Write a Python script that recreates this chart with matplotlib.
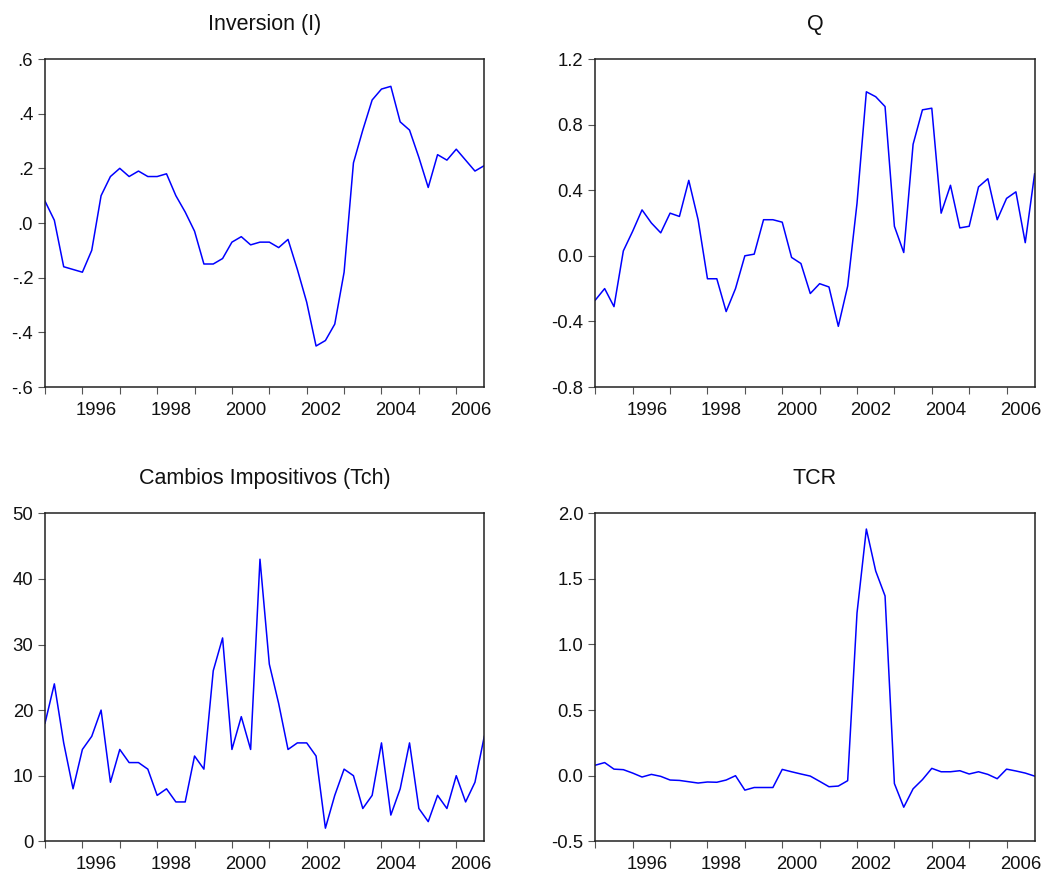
import matplotlib
matplotlib.use("Agg")
import matplotlib.pyplot as plt
import numpy as np

# quarterly data 1995Q1 .. 2006Q4
years = list(range(1995, 2007))

inversion = [0.08, 0.01, -0.16, -0.17, -0.18, -0.10, 0.10, 0.17, 0.20, 0.17, 0.19, 0.17,
             0.17, 0.18, 0.10, 0.04, -0.03, -0.15, -0.15, -0.13, -0.07, -0.05, -0.08, -0.07,
             -0.07, -0.09, -0.06, -0.17, -0.29, -0.45, -0.43, -0.37, -0.18, 0.22, 0.34, 0.45,
             0.49, 0.50, 0.37, 0.34, 0.24, 0.13, 0.25, 0.23, 0.27, 0.23, 0.19, 0.21]

q = [-0.27, -0.20, -0.31, 0.03, 0.15, 0.28, 0.20, 0.14, 0.26, 0.24, 0.46, 0.22,
     -0.14, -0.14, -0.34, -0.20, 0.00, 0.01, 0.22, 0.22, 0.205, -0.01, -0.047, -0.23,
     -0.17, -0.19, -0.43, -0.185, 0.32, 1.00, 0.97, 0.91, 0.18, 0.02, 0.68, 0.89,
     0.90, 0.26, 0.43, 0.17, 0.18, 0.42, 0.47, 0.22, 0.35, 0.39, 0.08, 0.50]

tch = [18, 24, 15, 8, 14, 16, 20, 9, 14, 12, 12, 11,
       7, 8, 6, 6, 13, 11, 26, 31, 14, 19, 14, 43,
       27, 21, 14, 15, 15, 13, 2, 7, 11, 10, 5, 7,
       15, 4, 8, 15, 5, 3, 7, 5, 10, 6, 9, 16]

tcr = [0.08, 0.10, 0.05, 0.046, 0.02, -0.01, 0.01, -0.005, -0.033, -0.036, -0.046, -0.056,
       -0.048, -0.05, -0.033, 0.0, -0.11, -0.09, -0.09, -0.09, 0.048, 0.03, 0.013, -0.003,
       -0.043, -0.084, -0.079, -0.038, 1.24, 1.88, 1.56, 1.37, -0.06, -0.24, -0.10, -0.03,
       0.056, 0.03, 0.03, 0.038, 0.013, 0.03, 0.01, -0.023, 0.05, 0.036, 0.02, -0.003]

titles = ["Inversion (I)", "Q", "Cambios Impositivos (Tch)", "TCR"]
yticks = [[0.6, 0.4, 0.2, 0.0, -0.2, -0.4, -0.6],
          [1.2, 0.8, 0.4, 0.0, -0.4, -0.8],
          [50, 40, 30, 20, 10, 0],
          [2.0, 1.5, 1.0, 0.5, 0.0, -0.5]]
ylabels = [[".6", ".4", ".2", ".0", "-.2", "-.4", "-.6"],
           ["1.2", "0.8", "0.4", "0.0", "-0.4", "-0.8"],
           ["50", "40", "30", "20", "10", "0"],
           ["2.0", "1.5", "1.0", "0.5", "0.0", "-0.5"]]
series = [inversion, q, tch, tcr]

plt.rcParams["font.family"] = ["Liberation Sans", "DejaVu Sans"]

W, H = 1053, 877
fig = plt.figure(figsize=(W / 100, H / 100), dpi=100)
boxes = [(45, 59), (595.3, 59), (45, 513.3), (595.3, 513.3)]
aw, ah = 439.3, 328.0

x = np.arange(len(inversion))
for (lx, ty), title, ys, yt, yl in zip(boxes, titles, series, yticks, ylabels):
    ax = fig.add_axes([lx / W, 1 - (ty + ah) / H, aw / W, ah / H])
    ax.plot(x, ys, color="#0000ff", lw=1.1)
    ax.set_xlim(0, len(ys) - 1)
    ax.set_ylim(min(yt), max(yt))
    ax.set_yticks(yt, yl)
    # year ticks (unlabelled) and labels centred on even years
    ax.set_xticks([4 * i for i in range(len(years))], [""] * len(years))
    ax.set_xticks([4 * i + 1.5 for i, yv in enumerate(years) if yv % 2 == 0],
                  [str(yv) for yv in years if yv % 2 == 0], minor=True)
    ax.tick_params(which="major", length=5, width=0.8, color="#555555",
                   labelsize=13.3, labelcolor="#111111", pad=3.5)
    ax.tick_params(axis="x", which="minor", length=0, pad=10.5,
                   labelsize=13.3, labelcolor="#111111")
    for s in ax.spines.values():
        s.set_linewidth(1.1)
        s.set_color("#222222")
    ax.set_title(title, fontsize=15.5, pad=21, color="#111111")

fig.savefig("out.png", dpi=100)
